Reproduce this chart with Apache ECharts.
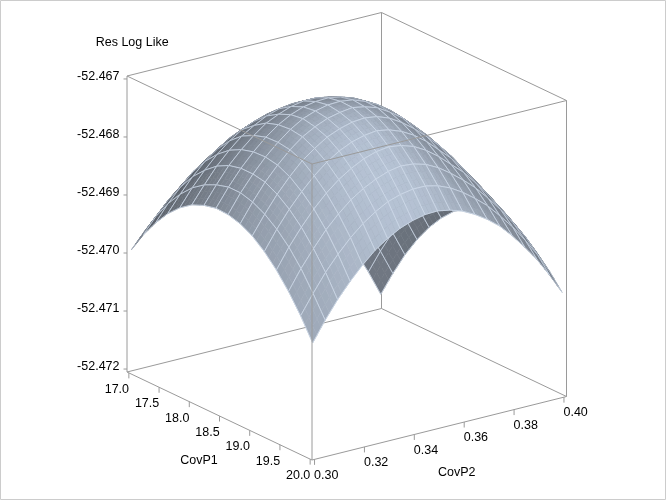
<!DOCTYPE html>
<html><head><meta charset="utf-8">
<style>html,body{margin:0;padding:0;background:#fff}#c{width:666px;height:500px}</style>
<script src="https://cdn.jsdelivr.net/npm/echarts@6/dist/echarts.min.js"></script>
</head><body><div id="c"></div>
<script>
// ---- data ----
const covP1 = [17.0,17.2,17.4,17.6,17.8,18.0,18.2,18.4,18.6,18.8,19.0,19.2,19.4,19.6,19.8,20.0];
const covP2 = [0.300,0.305,0.310,0.315,0.320,0.325,0.330,0.335,0.340,0.345,0.350,0.355,0.360,0.365,0.370,0.375,0.380,0.385,0.390,0.395,0.400];
const zBase = -52.472;          // Res Log Like = zBase + value / 1000
const resLogLikeMilli = [
[2.06,2.31,2.53,2.72,2.87,2.98,3.05,3.09,3.09,3.05,2.98,2.87,2.72,2.53,2.31,2.06,1.76,1.43,1.06,0.66,0.22],
[2.42,2.68,2.91,3.10,3.26,3.38,3.46,3.50,3.51,3.48,3.41,3.30,3.16,2.98,2.77,2.52,2.22,1.89,1.53,1.12,0.68],
[2.72,3.00,3.23,3.44,3.59,3.73,3.81,3.86,3.88,3.85,3.79,3.69,3.55,3.37,3.16,2.92,2.62,2.30,1.93,1.54,1.10],
[2.98,3.26,3.51,3.72,3.88,4.02,4.11,4.17,4.19,4.17,4.11,4.02,3.88,3.72,3.50,3.26,2.97,2.66,2.30,1.90,1.46],
[3.18,3.47,3.72,3.94,4.12,4.26,4.35,4.42,4.44,4.43,4.38,4.29,4.16,4.00,3.79,3.56,3.27,2.95,2.60,2.21,1.77],
[3.33,3.62,3.89,4.11,4.30,4.43,4.54,4.61,4.64,4.64,4.59,4.51,4.39,4.22,4.03,3.79,3.52,3.20,2.85,2.46,2.03],
[3.42,3.72,4.00,4.22,4.41,4.57,4.67,4.75,4.79,4.79,4.75,4.67,4.55,4.40,4.20,3.98,3.70,3.40,3.05,2.66,2.24],
[3.47,3.78,4.05,4.28,4.48,4.64,4.76,4.84,4.88,4.89,4.85,4.78,4.67,4.51,4.33,4.10,3.84,3.53,3.19,2.82,2.39],
[3.46,3.78,4.05,4.29,4.49,4.66,4.79,4.87,4.92,4.93,4.90,4.82,4.71,4.56,4.37,4.15,3.88,3.59,3.26,2.90,2.49],
[3.40,3.72,4.01,4.25,4.46,4.63,4.75,4.84,4.89,4.92,4.88,4.81,4.68,4.53,4.33,4.12,3.86,3.58,3.27,2.92,2.53],
[3.29,3.61,3.90,4.15,4.37,4.53,4.67,4.76,4.82,4.84,4.81,4.73,4.60,4.44,4.25,4.04,3.80,3.52,3.23,2.89,2.53],
[3.12,3.45,3.74,3.99,4.21,4.39,4.53,4.63,4.69,4.72,4.68,4.60,4.48,4.32,4.12,3.92,3.68,3.41,3.12,2.82,2.46],
[2.90,3.24,3.53,3.79,4.01,4.19,4.33,4.44,4.51,4.54,4.51,4.44,4.32,4.16,3.97,3.78,3.54,3.28,3.00,2.70,2.36],
[2.63,2.97,3.26,3.53,3.75,3.94,4.08,4.19,4.27,4.31,4.29,4.23,4.12,3.97,3.80,3.61,3.38,3.13,2.85,2.55,2.20],
[2.31,2.64,2.95,3.21,3.44,3.63,3.78,3.90,3.97,4.01,4.01,3.96,3.87,3.74,3.58,3.40,3.17,2.93,2.65,2.34,1.99],
[1.94,2.28,2.58,2.84,3.07,3.27,3.42,3.54,3.62,3.67,3.68,3.64,3.57,3.46,3.32,3.15,2.93,2.68,2.41,2.09,1.74]
];
const p1TickValues = [17.0,17.5,18.0,18.5,19.0,19.5,20.0];
const p1TickLabels = ['17.0','17.5','18.0','18.5','19.0','19.5','20.0'];
const p2TickValues = [0.30,0.32,0.34,0.36,0.38,0.40];
const p2TickLabels = ['0.30','0.32','0.34','0.36','0.38','0.40'];
const zTickValues = [-52.472,-52.471,-52.470,-52.469,-52.468,-52.467];
const zTickLabels = ['-52.472','-52.471','-52.470','-52.469','-52.468','-52.467'];

// ---- oblique projection of the box onto the hidden pixel-valued axes ----
const origin = [127, 372], dirP1 = [185, 88], dirP2 = [254.5, -63.5], dirZ = [0, -296];
const inset = 0.01, span = 0.98;
const frac = (v, lo, hi) => inset + span * (v - lo) / (hi - lo);
const boxPoint = (a, b, c) => [
  origin[0] + a * dirP1[0] + b * dirP2[0] + c * dirZ[0],
  origin[1] + a * dirP1[1] + b * dirP2[1] + c * dirZ[1]];
const project = (p1, p2, z) => boxPoint(frac(p1, 17, 20), frac(p2, 0.30, 0.40), frac(z, -52.472, -52.467));
const zAt = (i, j) => zBase + resLogLikeMilli[i][j] / 1000;
const gridPoint = (i, j) => project(covP1[i], covP2[j], zAt(i, j));

const LINE = '#9a9a9a', MESH = '#cfdaea', FONT = '12.5px "Liberation Sans", Arial, sans-serif';

function shade(i, j) {
  const I = covP1.length - 1, J = covP2.length - 1, m = resLogLikeMilli;
  const i0 = Math.max(i - 1, 0), i1 = Math.min(i + 1, I), j0 = Math.max(j - 1, 0), j1 = Math.min(j + 1, J);
  const sa = (m[i1][j] - m[i0][j]) / (i1 - i0) * 3, sb = (m[i][j1] - m[i][j0]) / (j1 - j0) * 4;
  const l = Math.hypot(sa, sb, 1);
  const x = Math.max(-0.2, (0.6 * -sa - 0.2 * -sb + 0.77) / l);
  return 80 + 50 * x + 66 * x * x;
}
function toColor(g) {
  const c = v => Math.max(0, Math.min(255, Math.round(v)));
  return 'rgb(' + c(g * 0.935) + ',' + c(g) + ',' + c(g * 1.09) + ')';
}
const SUB = 3;

function renderCell(params, api) {
  const i = api.value(0), j = api.value(1);
  const c = [gridPoint(i, j), gridPoint(i + 1, j), gridPoint(i + 1, j + 1), gridPoint(i, j + 1)].map(p => api.coord(p));
  const cross = (c[2][0] - c[0][0]) * (c[3][1] - c[1][1]) - (c[2][1] - c[0][1]) * (c[3][0] - c[1][0]);
  const under = cross > 0;
  const g = under ? null : [shade(i, j), shade(i + 1, j), shade(i + 1, j + 1), shade(i, j + 1)];
  const lerp = (s, t) => [
    (1 - s) * (1 - t) * c[0][0] + s * (1 - t) * c[1][0] + s * t * c[2][0] + (1 - s) * t * c[3][0],
    (1 - s) * (1 - t) * c[0][1] + s * (1 - t) * c[1][1] + s * t * c[2][1] + (1 - s) * t * c[3][1]];
  const children = [];
  for (let a = 0; a < SUB; a++) for (let b = 0; b < SUB; b++) {
    const s0 = a / SUB, s1 = (a + 1) / SUB, t0 = b / SUB, t1 = (b + 1) / SUB, s = (s0 + s1) / 2, t = (t0 + t1) / 2;
    let col;
    if (under) col = toColor(110 + ((c[0][1] + c[2][1]) / 2 - 210) * 0.15);
    else col = toColor((1 - s) * (1 - t) * g[0] + s * (1 - t) * g[1] + s * t * g[2] + (1 - s) * t * g[3]);
    children.push({ type: 'polygon', shape: { points: [lerp(s0, t0), lerp(s1, t0), lerp(s1, t1), lerp(s0, t1)] },
      style: { fill: col, stroke: col, lineWidth: 0.6 }, silent: true });
  }
  const area = Math.abs(cross) / 2;
  children.push({ type: 'polygon', shape: { points: c },
    style: { fill: 'none', stroke: MESH, lineWidth: 0.8, opacity: Math.min(1, 0.3 + area / 100) }, silent: true });
  return { type: 'group', children };
}

const cellData = [];
for (let i = 0; i < covP1.length - 1; i++)
  for (let j = covP2.length - 2; j >= 0; j--) cellData.push([i, j]);

const seg = (api, a, b, extra) => ({ type: 'line',
  shape: (() => { const p = api.coord(a), q = api.coord(b); return { x1: p[0], y1: p[1], x2: q[0], y2: q[1] }; })(),
  style: Object.assign({ stroke: LINE, lineWidth: 1 }, extra || {}), silent: true });
const txt = (api, p, text, align) => { const q = api.coord(p); return { type: 'text',
  style: { text, x: q[0], y: q[1], textAlign: align || 'center', textVerticalAlign: 'middle', fill: '#000', font: FONT }, silent: true }; };

// box edges as [a,b,c] corner pairs in box fractions
const backEdges = [[[0,0,0],[0,0,1]],[[0,1,0],[0,1,1]],[[1,1,0],[1,1,1]],[[0,0,0],[0,1,0]],[[0,1,0],[1,1,0]],
  [[0,0,1],[0,1,1]],[[0,1,1],[1,1,1]],[[0,0,0],[1,0,0]],[[1,0,0],[1,1,0]]];
const frontEdges = [[[1,0,0],[1,0,1]],[[0,0,1],[1,0,1]],[[1,0,1],[1,1,1]]];

const edgeSeries = (edges, z) => ({ type: 'custom', coordinateSystem: 'cartesian2d', z, silent: true, clip: false, animation: false,
  data: [[0, 0]], renderItem: (p, api) => ({ type: 'group', children: edges.map(e => seg(api, boxPoint(...e[0]), boxPoint(...e[1]))) }) });

const axesSeries = { type: 'custom', coordinateSystem: 'cartesian2d', z: 5, silent: true, clip: false, animation: false, data: [[0, 0]],
  renderItem: (p, api) => {
    const ch = [];
    p1TickValues.forEach((v, k) => {
      const a = boxPoint(frac(v, 17, 20), 0, 0);
      ch.push(seg(api, a, [a[0], a[1] + 5.5]));
      ch.push(txt(api, [a[0] - 12, a[1] + 16.5], p1TickLabels[k]));
    });
    p2TickValues.forEach((v, k) => {
      const a = boxPoint(1, frac(v, 0.30, 0.40), 0);
      ch.push(seg(api, a, [a[0], a[1] + 5.5]));
      ch.push(txt(api, [a[0] + 11.7, a[1] + 15.7], p2TickLabels[k]));
    });
    zTickValues.forEach((v, k) => {
      const a = boxPoint(0, 0, frac(v, -52.472, -52.467));
      ch.push(seg(api, [a[0] - 3.5, a[1]], a));
      ch.push(txt(api, [119.5, a[1] - 2], zTickLabels[k], 'right'));
    });
    ch.push(txt(api, [95.7, 43], 'Res Log Like', 'left'));
    ch.push(txt(api, [199, 460.3], 'CovP1'));
    ch.push(txt(api, [456.7, 472.7], 'CovP2'));
    return { type: 'group', children: ch };
  } };

const chart = echarts.init(document.getElementById('c'), null, { renderer: 'canvas' });
chart.setOption({
  animation: false, backgroundColor: '#fff', tooltip: { show: false },
  grid: { left: 0, right: 0, top: 0, bottom: 0 },
  xAxis: { type: 'value', min: 0, max: 666, show: false },
  yAxis: { type: 'value', min: 0, max: 500, inverse: true, show: false },
  graphic: [{ type: 'rect', shape: { x: 0.5, y: 0.5, width: 665, height: 499 }, style: { fill: 'none', stroke: '#cccccc', lineWidth: 1 }, silent: true, z: 100 }],
  series: [
    edgeSeries(backEdges, 1),
    { type: 'custom', coordinateSystem: 'cartesian2d', z: 2, silent: true, clip: false, animation: false, progressive: 0,
      data: cellData, encode: { x: 0, y: 1 }, renderItem: renderCell },
    edgeSeries(frontEdges, 3),
    axesSeries
  ]
});
</script></body></html>
